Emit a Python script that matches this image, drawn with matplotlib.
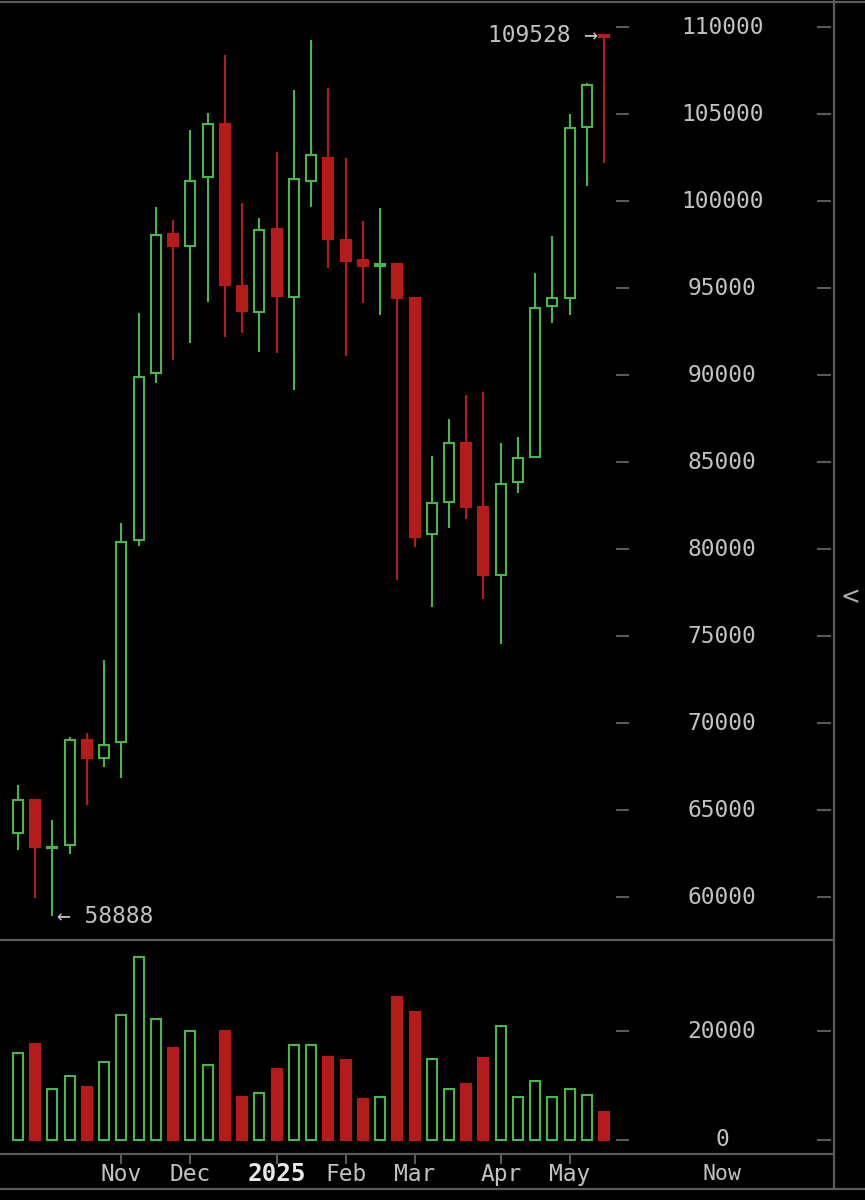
import numpy as np
import pandas as pd
import matplotlib
matplotlib.use("Agg")
import matplotlib.pyplot as plt
from matplotlib.patches import Rectangle
from matplotlib.lines import Line2D

# weekly candles, first week starting 2024-09-23
start = "2024-09-23"
opens = [63700, 65600, 62800, 63000, 69000, 68000, 68900, 80500, 90100, 98100,
         97400, 101400, 104400, 95100, 93600, 98400, 94500, 101150, 102500, 97750,
         96600, 96250, 96400, 94450, 80850, 82700, 86100, 82400, 78500, 83850,
         85300, 93950, 94450, 104250, 109520]
highs = [66450, 65650, 64400, 69200, 69400, 73600, 81500, 93550, 99650, 98900,
         104100, 105050, 108400, 99900, 99000, 102800, 106400, 109250, 106500, 102500,
         98850, 99600, 96450, 94500, 85350, 87450, 88850, 89000, 86100, 86450,
         95850, 98000, 105000, 106800, 109528]
lows = [62700, 59950, 58888, 62500, 65300, 67450, 66850, 80200, 89550, 90850,
        91850, 94200, 92200, 92400, 91300, 91250, 89150, 99650, 96150, 91100,
        94150, 93450, 78200, 80100, 76650, 81200, 81700, 77100, 74550, 83200,
        85250, 93000, 93450, 100850, 102200]
closes = [65600, 62850, 62900, 69000, 68000, 68750, 80400, 89900, 98050, 97400,
          101150, 104400, 95150, 93700, 98350, 94550, 101250, 102650, 97800, 96550,
          96250, 96400, 94450, 80700, 82650, 86100, 82400, 78500, 83750, 85250,
          93850, 94400, 104200, 106650, 109420]
volumes = [15900, 17600, 9300, 11800, 9800, 14400, 23000, 33600, 22200, 16900,
           20000, 13700, 20000, 7900, 8600, 13000, 17500, 17500, 15300, 14600,
           7500, 7900, 26300, 23500, 14900, 9300, 10300, 15000, 21000, 7900,
           10900, 7900, 9300, 8200, 5200]

price_ticks = list(range(60000, 110001, 5000))
vol_ticks = [0, 20000]

GREEN = "#48b648"
RED = "#b51b1b"
TXT = "#c2c2c2"
LINE = "#5a5a5a"
FONT = "DejaVu Sans Mono"
FS = 16.5

dates = pd.date_range(start, periods=len(opens), freq="7D")
n = len(opens)
idx = np.arange(n)

W, H = 865, 1200
STEP = 17.24  # px per candle
fig = plt.figure(figsize=(W / 100, H / 100), dpi=100, facecolor="black")


def box(left, top, right, bottom):
    return [left / W, 1 - bottom / H, (right - left) / W, (bottom - top) / H]


ax_p = fig.add_axes(box(0, 2, 834, 940))
ax_v = fig.add_axes(box(0, 940, 834, 1154))
ax_x = fig.add_axes(box(0, 1154, 834, 1189))

xlim = (-18 / STEP, (834 - 18) / STEP)
for ax in (ax_p, ax_v, ax_x):
    ax.set_facecolor("black")
    ax.set_xlim(*xlim)
    ax.set_xticks([])
    ax.set_yticks([])
    for s in ax.spines.values():
        s.set_visible(False)

pp = 50000 / 870  # price per px
ax_p.set_ylim(60000 - 43 * pp, 110000 + 25 * pp)
vp = 20000 / 109
ax_v.set_ylim(-14 * vp, 200 * vp)
ax_x.set_ylim(0, 1)

bw = 0.58
lw = 1.5
for i in idx:
    o, h, l, c = opens[i], highs[i], lows[i], closes[i]
    up = c >= o
    col = GREEN if up else RED
    lo_b, hi_b = min(o, c), max(o, c)
    ax_p.plot([i, i], [hi_b, h], color=col, lw=lw, solid_capstyle="butt", zorder=2)
    ax_p.plot([i, i], [l, lo_b], color=col, lw=lw, solid_capstyle="butt", zorder=2)
    ax_p.add_patch(Rectangle((i - bw / 2, lo_b), bw, max(hi_b - lo_b, 60),
                             facecolor="black" if up else col, edgecolor=col,
                             lw=lw, zorder=3))

vcols = [GREEN if closes[i] >= opens[i] else RED for i in idx]
ax_v.bar(idx, volumes, width=bw,
         color=["black" if c == GREEN else c for c in vcols],
         edgecolor=vcols, linewidth=lw, zorder=3)

# right-hand scale: labels with dashes on both sides
lab_x = (722 - 18) / STEP
d1 = ((617 - 18) / STEP, (628 - 18) / STEP)
d2 = ((818 - 18) / STEP, (830 - 18) / STEP)
for ax, ticks in ((ax_p, price_ticks), (ax_v, vol_ticks)):
    for v in ticks:
        ax.plot(d1, [v, v], color=LINE, lw=1.5)
        ax.plot(d2, [v, v], color=LINE, lw=1.5)
        ax.text(lab_x, v, str(v), color=TXT, fontsize=FS, family=FONT,
                ha="center", va="center")

# high / low markers
imax = int(np.argmax(highs))
imin = int(np.argmin(lows))
ax_p.text(imax - 0.35, highs[imax], f"{highs[imax]} \u2192", color=TXT, fontsize=FS,
          family=FONT, ha="right", va="center")
ax_p.text(imin + 0.26, lows[imin], f"\u2190 {lows[imin]}", color=TXT, fontsize=FS,
          family=FONT, ha="left", va="center")

# month ticks at first candle of each month (first partial month left unlabeled)
for i in range(4, n):
    if dates[i].month != dates[i - 1].month:
        ax_x.plot([i, i], [1, 0.74], color=LINE, lw=1.5)
        if dates[i].month == 1:
            ax_x.text(i, 0.42, str(dates[i].year), color="#e8e8e8", fontsize=17.5,
                      family=FONT, weight="bold", ha="center", va="center")
        else:
            ax_x.text(i, 0.42, dates[i].strftime("%b"), color=TXT, fontsize=FS,
                      family=FONT, ha="center", va="center")
ax_x.text(lab_x, 0.42, "Now", color=TXT, fontsize=15.5, family=FONT,
          ha="center", va="center")

# frame lines
def hline(y, x0, x1):
    fig.add_artist(Line2D([x0 / W, x1 / W], [1 - y / H, 1 - y / H], color=LINE, lw=1.6))

hline(2, 0, W)
hline(940, 0, 834)
hline(1154, 0, 834)
hline(1189, 0, W)
fig.add_artist(Line2D([834 / W, 834 / W], [1 - 1189 / H, 1], color=LINE, lw=1.6))
fig.text(850 / W, 1 - 597 / H, "<", color="#b0b0b0", fontsize=17, family="DejaVu Sans",
         ha="center", va="center")

fig.savefig("out.png", dpi=100, facecolor="black")
